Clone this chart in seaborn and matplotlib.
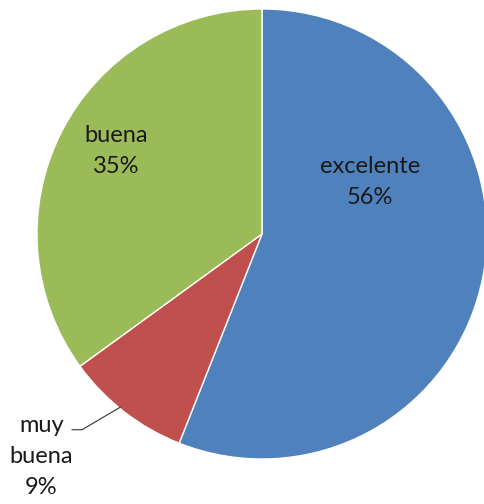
import matplotlib
matplotlib.use("Agg")
import matplotlib.pyplot as plt
import seaborn as sns

# data
categories = ["excelente", "muy\nbuena", "buena"]
shares = [56, 9, 35]
colors = ["#4F81BD", "#C0504D", "#9BBB59"]

sns.set_style("white")
plt.rcParams['font.family'] = ['Lato', 'DejaVu Sans']

fig = plt.figure(figsize=(4.84, 5.04), dpi=100)
ax = fig.add_axes([0.0764, 0.0893, 0.9298, 0.8929])

wedges, _ = ax.pie(shares, colors=sns.color_palette(colors), startangle=90,
                   counterclock=False, radius=1,
                   wedgeprops=dict(edgecolor="white", linewidth=1))
ax.set_xlim(-1, 1)
ax.set_ylim(-1, 1)
ax.set_aspect("equal")
ax.axis("off")
for w in wedges:
    w.set_clip_on(False)

label_pos = [(0.48, 0.23), (-0.98, -0.99), (-0.65, 0.37)]
for name, val, (x, y) in zip(categories, shares, label_pos):
    ax.text(x, y, f"{name}\n{val}%", ha="center", va="center",
            fontsize=17, color="#1a1a1a", linespacing=1.6)

# leader line for the small slice
ax.plot([-0.845, -0.80, -0.63], [-0.87, -0.87, -0.77], color="#333333", lw=0.8,
        clip_on=False)

fig.savefig("out.png", dpi=100)
